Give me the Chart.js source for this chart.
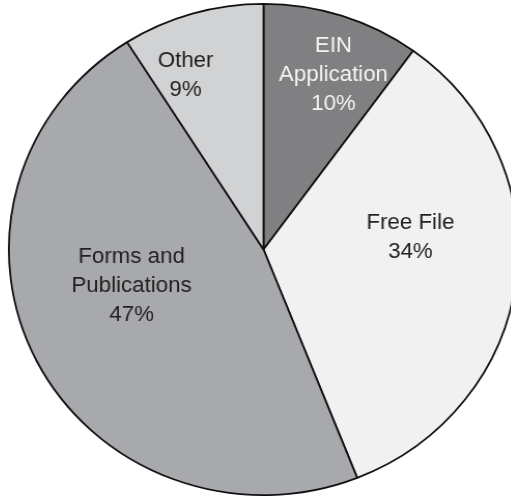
<!DOCTYPE html>
<html>
<head>
<meta charset="utf-8">
<script src="https://cdn.jsdelivr.net/npm/chart.js"></script>
<style>
  html, body { margin: 0; padding: 0; background: #fff; overflow: hidden; }
  /* pie is a touch wider than tall, so stretch the canvas sideways */
  #wrap {
    position: absolute; left: 14.5px; top: 0;
    width: 497px; height: 497px;
    transform-origin: 248.5px 249.5px;
    transform: scaleX(1.0367);
  }
</style>
</head>
<body>
<div id="wrap"><canvas id="pie"></canvas></div>
<script>
const categories = [['EIN', 'Application'], ['Free File'], ['Forms and', 'Publications'], ['Other']];
const shares = [10, 34, 47, 9];

const sliceColors = ['#808083', '#f1f1f1', '#a8a9ac', '#d1d2d4'];
const textColors = ['#f4f4f4', '#231f20', '#231f20', '#231f20'];
// where each label sits: share of the radius, and turn (deg) away from the slice middle
const labelRadius = [0.77, 0.58, 0.537, 0.78];
const labelTurn = [2.9, -13, 11.8, -6.9];

const sliceLabels = {
  id: 'sliceLabels',
  afterDatasetsDraw(chart) {
    const ctx = chart.ctx;
    const meta = chart.getDatasetMeta(0);
    ctx.save();
    ctx.font = '21.5px "Liberation Sans", Arial, sans-serif';
    ctx.textAlign = 'center';
    ctx.textBaseline = 'middle';
    meta.data.forEach((arc, i) => {
      const p = arc.getProps(['x', 'y', 'startAngle', 'endAngle', 'outerRadius'], true);
      const a = (p.startAngle + p.endAngle) / 2 + labelTurn[i] * Math.PI / 180;
      const cx = p.x + Math.cos(a) * p.outerRadius * labelRadius[i];
      const cy = p.y + Math.sin(a) * p.outerRadius * labelRadius[i] + 2;
      const lines = [...categories[i], shares[i] + '%'];
      const lh = 29;
      const top = cy - (lines.length - 1) * lh / 2;
      ctx.fillStyle = textColors[i];
      lines.forEach((t, k) => ctx.fillText(t, cx, top + k * lh));
    });
    ctx.restore();
  }
};

new Chart(document.getElementById('pie'), {
  type: 'pie',
  data: {
    labels: categories.map(c => c.join(' ')),
    datasets: [{
      data: shares,
      backgroundColor: sliceColors,
      borderColor: '#111',
      borderWidth: 1.8
    }]
  },
  options: {
    responsive: true,
    maintainAspectRatio: false,
    animation: false,
    layout: { padding: { top: 3, bottom: 1, left: 0, right: 0 } },
    plugins: {
      legend: { display: false },
      tooltip: { enabled: false }
    }
  },
  plugins: [sliceLabels]
});
</script>
</body>
</html>
